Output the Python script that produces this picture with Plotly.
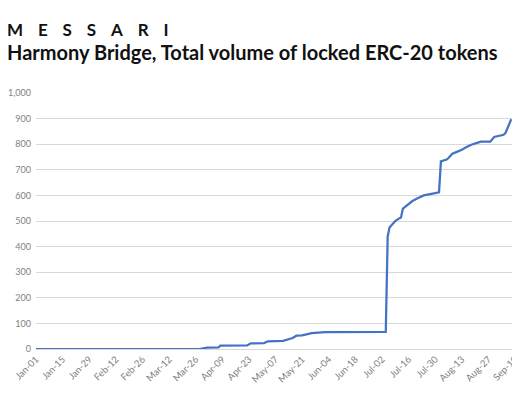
import plotly.graph_objects as go

# ---- data ----
dates = [
    "2021-01-01", "2021-03-28", "2021-04-01", "2021-04-07", "2021-04-08",
    "2021-04-22", "2021-04-24", "2021-05-01", "2021-05-03", "2021-05-11",
    "2021-05-16", "2021-05-18", "2021-05-21", "2021-05-24", "2021-05-26",
    "2021-06-02", "2021-07-04", "2021-07-05", "2021-07-06", "2021-07-07",
    "2021-07-09", "2021-07-11", "2021-07-12", "2021-07-13", "2021-07-15",
    "2021-07-18", "2021-07-21", "2021-07-24", "2021-07-28", "2021-08-01",
    "2021-08-02", "2021-08-05", "2021-08-06", "2021-08-08", "2021-08-11",
    "2021-08-13", "2021-08-16", "2021-08-18", "2021-08-21", "2021-08-23",
    "2021-08-28", "2021-08-30", "2021-09-04", "2021-09-05", "2021-09-08",
]
locked_volume = [
    0, 0, 5, 6, 13,
    14, 22, 23, 30, 32,
    43, 52, 53, 60, 62,
    66, 67, 440, 475, 483,
    500, 510, 514, 548, 560,
    578, 590, 600, 606, 612,
    733, 740, 746, 763, 772,
    778, 791, 798, 805, 810,
    810, 828, 837, 844, 898,
]

tick_dates = [
    "2021-01-01", "2021-01-15", "2021-01-29", "2021-02-12", "2021-02-26",
    "2021-03-12", "2021-03-26", "2021-04-09", "2021-04-23", "2021-05-07",
    "2021-05-21", "2021-06-04", "2021-06-18", "2021-07-02", "2021-07-16",
    "2021-07-30", "2021-08-13", "2021-08-27", "2021-09-10",
]
tick_labels = [
    "Jan-01", "Jan-15", "Jan-29", "Feb-12", "Feb-26",
    "Mar-12", "Mar-26", "Apr-09", "Apr-23", "May-07",
    "May-21", "Jun-04", "Jun-18", "Jul-02", "Jul-16",
    "Jul-30", "Aug-13", "Aug-27", "Sep-10",
]
y_ticks = [0, 100, 200, 300, 400, 500, 600, 700, 800, 900, 1000]

brand = "MESSARI"
title = "Harmony Bridge, Total volume of locked ERC-20 tokens"

fig = go.Figure()
fig.add_trace(go.Scatter(
    x=dates, y=locked_volume, mode="lines",
    line=dict(color="#4472C4", width=2.25),
    hoverinfo="skip", showlegend=False,
))

# the page body adds an 8px margin, so the figure is sized to the visible area
fig.update_layout(
    width=512, height=392,
    template="none",
    paper_bgcolor="white", plot_bgcolor="white",
    margin=dict(l=28, r=4, t=85, b=51, pad=0),
    font=dict(family="Lato, 'Open Sans', sans-serif", color="#595959"),
    xaxis=dict(
        type="date",
        range=["2021-01-01", "2021-09-10 12:00"],
        tickmode="array", tickvals=tick_dates, ticktext=tick_labels,
        tickangle=-45, tickfont=dict(size=9.5, color="#7f7f7f"),
        ticklabeloverflow="allow",
        showgrid=False, zeroline=False,
        showline=True, linecolor="#d9d9d9", linewidth=1,
        ticks="", automargin=False,
    ),
    yaxis=dict(
        range=[0, 1000],
        tickmode="array", tickvals=y_ticks,
        tickformat=",",
        tickfont=dict(size=9, color="#7f7f7f"),
        showgrid=True, gridcolor="#d9d9d9", gridwidth=1,
        zeroline=False, showline=False, ticks="",
        ticklabelstandoff=4,
        automargin=False,
    ),
    annotations=[
        dict(
            text="<b>" + "\u2003\u2009".join(brand) + "</b>",
            xref="paper", yref="paper", x=0, y=1, xanchor="left", yanchor="bottom",
            xshift=-31, yshift=51,
            showarrow=False,
            font=dict(family="Lato, sans-serif", size=17, color="#111111"),
        ),
        dict(
            text="<b>" + title + "</b>",
            xref="paper", yref="paper", x=0, y=1, xanchor="left", yanchor="bottom",
            xshift=-31, yshift=27,
            showarrow=False,
            font=dict(family="Lato, sans-serif", size=20, color="#111111"),
        ),
    ],
)

fig.write_html("out.html")
